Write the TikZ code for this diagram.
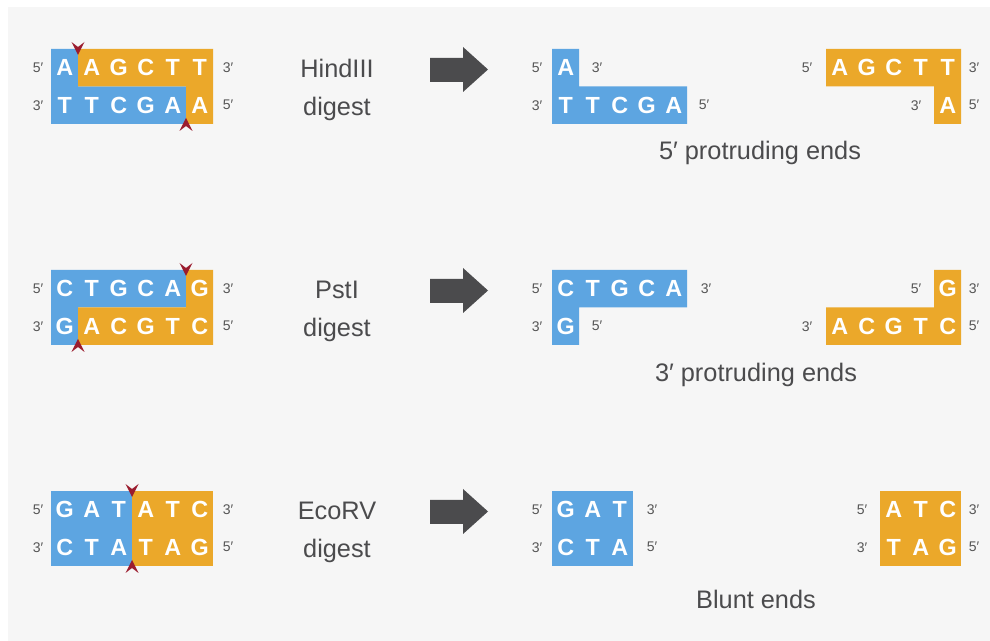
\documentclass[tikz,border=0pt]{standalone}
\usepackage{fontspec}
\setmainfont{Liberation Sans}
\usepackage{xcolor}

\definecolor{dnablue}{HTML}{5DA5E1}
\definecolor{dnaorange}{HTML}{EBA82A}
\definecolor{cutred}{HTML}{9B1C2E}
\definecolor{arrowgray}{HTML}{4B4B4D}
\definecolor{labelgray}{HTML}{555555}
\definecolor{bggray}{HTML}{F6F6F6}

% one box per base, 27px wide
\makeatletter
\newcommand\bases[1]{\@tfor\dnabase:=#1\do{\makebox[20.25pt]{\dnabase}}}
\makeatother

\tikzset{
  strand/.style={font=\fontsize{17.5}{17.5}\selectfont\bfseries, text=white, inner sep=0pt, anchor=west},
  endlabel/.style={font=\fontsize{10.5}{11}\selectfont, text=labelgray, inner sep=0pt},
  caption/.style={font=\fontsize{19}{22}\selectfont, text=arrowgray, inner sep=0pt, anchor=base},
  cutmark/.pic={\fill[cutred] (0,0) -- (6.5,-13) -- (0,-8) -- (-6.5,-13) -- cycle;},
}

\begin{document}
\begin{tikzpicture}[x=0.75pt,y=-0.75pt]

        \useasboundingbox (0,0) rectangle (990,641);
        \fill[bggray] (8,7) rectangle (990,641);

        % HindIII digest
        \begin{scope}
        \fill[dnablue] (51,49) -- (78,49) -- (78,86.5) -- (186,86.5) -- (186,124) -- (51,124) -- cycle;
        \fill[dnaorange] (78,49) -- (213,49) -- (213,124) -- (186,124) -- (186,86.5) -- (78,86.5) -- cycle;
        \node[strand] (hind-top) at (51,67.75) {\bases{AAGCTT}};
        \node[strand] (hind-bot) at (51,105.25) {\bases{TTCGAA}};
        \node[endlabel] (hind-l1) at (38,67.75) {5′};
        \node[endlabel] (hind-l2) at (38,105.25) {3′};
        \node[endlabel] (hind-r1) at (228,67.75) {3′};
        \node[endlabel] (hind-r2) at (228,105.25) {5′};
        \pic at (78,55) {cutmark};
        \pic[rotate=180] at (186,118) {cutmark};

        \node[caption] (hind-name) at (337,78) {HindIII};
        \node[caption] (hind-dig) at (337,116) {digest};
        \fill[arrowgray] (430,58) -- (463,58) -- (463,47) -- (488,69.5) -- (463,92) -- (463,82) -- (430,82) -- cycle;

        \fill[dnablue] (552,49) -- (579,49) -- (579,86.5) -- (687,86.5) -- (687,124) -- (552,124) -- cycle;
        \node[strand] (hind-a-top) at (552,67.75) {\bases{A}};
        \node[strand] (hind-a-bot) at (552,105.25) {\bases{TTCGA}};
        \node[endlabel] (hind-a-l1) at (537,67.75) {5′};
        \node[endlabel] (hind-a-l2) at (537,105.25) {3′};
        \node[endlabel] (hind-a-r1) at (597,67.75) {3′};
        \node[endlabel] (hind-a-r2) at (704,105.25) {5′};

        \fill[dnaorange] (826,49) -- (961,49) -- (961,124) -- (934,124) -- (934,86.5) -- (826,86.5) -- cycle;
        \node[strand] (hind-b-top) at (826,67.75) {\bases{AGCTT}};
        \node[strand] (hind-b-bot) at (934,105.25) {\bases{A}};
        \node[endlabel] (hind-b-l1) at (807,67.75) {5′};
        \node[endlabel] (hind-b-l2) at (916,105.25) {3′};
        \node[endlabel] (hind-b-r1) at (974,67.75) {3′};
        \node[endlabel] (hind-b-r2) at (974,105.25) {5′};

        \node[caption] (hind-ends) at (760,160) {5′ protruding ends};
        \end{scope}

        % PstI digest
        \begin{scope}[shift={(0,221)}]
        \fill[dnablue] (51,49) -- (186,49) -- (186,86.5) -- (78,86.5) -- (78,124) -- (51,124) -- cycle;
        \fill[dnaorange] (186,49) -- (213,49) -- (213,124) -- (78,124) -- (78,86.5) -- (186,86.5) -- cycle;
        \node[strand] (pst-top) at (51,67.75) {\bases{CTGCAG}};
        \node[strand] (pst-bot) at (51,105.25) {\bases{GACGTC}};
        \node[endlabel] (pst-l1) at (38,67.75) {5′};
        \node[endlabel] (pst-l2) at (38,105.25) {3′};
        \node[endlabel] (pst-r1) at (228,67.75) {3′};
        \node[endlabel] (pst-r2) at (228,105.25) {5′};
        \pic at (186,55) {cutmark};
        \pic[rotate=180] at (78,118) {cutmark};

        \node[caption] (pst-name) at (337,78) {PstI};
        \node[caption] (pst-dig) at (337,116) {digest};
        \fill[arrowgray] (430,58) -- (463,58) -- (463,47) -- (488,69.5) -- (463,92) -- (463,82) -- (430,82) -- cycle;

        \fill[dnablue] (552,49) -- (687,49) -- (687,86.5) -- (579,86.5) -- (579,124) -- (552,124) -- cycle;
        \node[strand] (pst-a-top) at (552,67.75) {\bases{CTGCA}};
        \node[strand] (pst-a-bot) at (552,105.25) {\bases{G}};
        \node[endlabel] (pst-a-l1) at (537,67.75) {5′};
        \node[endlabel] (pst-a-l2) at (537,105.25) {3′};
        \node[endlabel] (pst-a-r1) at (706,67.75) {3′};
        \node[endlabel] (pst-a-r2) at (597,105.25) {5′};

        \fill[dnaorange] (934,49) -- (961,49) -- (961,124) -- (826,124) -- (826,86.5) -- (934,86.5) -- cycle;
        \node[strand] (pst-b-top) at (934,67.75) {\bases{G}};
        \node[strand] (pst-b-bot) at (826,105.25) {\bases{ACGTC}};
        \node[endlabel] (pst-b-l1) at (916,67.75) {5′};
        \node[endlabel] (pst-b-l2) at (807,105.25) {3′};
        \node[endlabel] (pst-b-r1) at (974,67.75) {3′};
        \node[endlabel] (pst-b-r2) at (974,105.25) {5′};

        \node[caption] (pst-ends) at (756,161) {3′ protruding ends};
        \end{scope}

        % EcoRV digest
        \begin{scope}[shift={(0,442)}]
        \fill[dnablue] (51,49) rectangle (132,124);
        \fill[dnaorange] (132,49) rectangle (213,124);
        \node[strand] (eco-top) at (51,67.75) {\bases{GATATC}};
        \node[strand] (eco-bot) at (51,105.25) {\bases{CTATAG}};
        \node[endlabel] (eco-l1) at (38,67.75) {5′};
        \node[endlabel] (eco-l2) at (38,105.25) {3′};
        \node[endlabel] (eco-r1) at (228,67.75) {3′};
        \node[endlabel] (eco-r2) at (228,105.25) {5′};
        \pic at (132,55) {cutmark};
        \pic[rotate=180] at (132,118) {cutmark};

        \node[caption] (eco-name) at (337,78) {EcoRV};
        \node[caption] (eco-dig) at (337,116) {digest};
        \fill[arrowgray] (430,58) -- (463,58) -- (463,47) -- (488,69.5) -- (463,92) -- (463,82) -- (430,82) -- cycle;

        \fill[dnablue] (552,49) rectangle (633,124);
        \node[strand] (eco-a-top) at (552,67.75) {\bases{GAT}};
        \node[strand] (eco-a-bot) at (552,105.25) {\bases{CTA}};
        \node[endlabel] (eco-a-l1) at (537,67.75) {5′};
        \node[endlabel] (eco-a-l2) at (537,105.25) {3′};
        \node[endlabel] (eco-a-r1) at (652,67.75) {3′};
        \node[endlabel] (eco-a-r2) at (652,105.25) {5′};

        \fill[dnaorange] (880,49) rectangle (961,124);
        \node[strand] (eco-b-top) at (880,67.75) {\bases{ATC}};
        \node[strand] (eco-b-bot) at (880,105.25) {\bases{TAG}};
        \node[endlabel] (eco-b-l1) at (862,67.75) {5′};
        \node[endlabel] (eco-b-l2) at (862,105.25) {3′};
        \node[endlabel] (eco-b-r1) at (974,67.75) {3′};
        \node[endlabel] (eco-b-r2) at (974,105.25) {5′};

        \node[caption] (eco-ends) at (756,167) {Blunt ends};
        \end{scope}

\end{tikzpicture}
\end{document}
